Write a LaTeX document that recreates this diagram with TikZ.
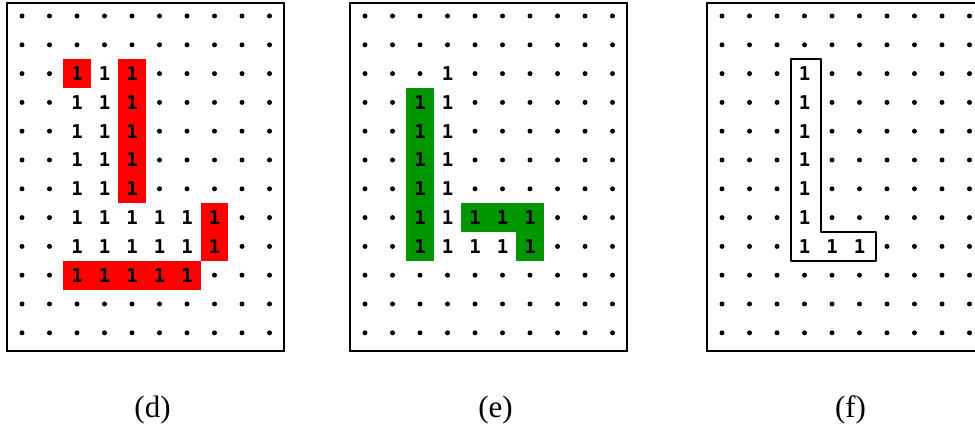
\documentclass[tikz,border=0pt]{standalone}
\usepackage{fontspec}
\newfontfamily\cellfont{DejaVu Sans Mono}
\newfontfamily\capfont{Liberation Serif}
\usetikzlibrary{positioning}
\definecolor{cellred}{RGB}{255,0,0}
\definecolor{cellgreen}{RGB}{0,150,0}

\begin{document}
\begin{tikzpicture}[
  frame/.style={draw, line width=1.8pt, minimum width=277pt, minimum height=348pt,
                inner sep=0pt},
  dot/.style={circle, fill=black, inner sep=0pt, minimum size=5pt},
  one/.style={fill=white, inner sep=0pt, minimum width=27.5pt, minimum height=28.8pt,
              font=\fontsize{19}{19}\cellfont\bfseries},
  redone/.style={one, fill=cellred},
  greenone/.style={one, fill=cellgreen},
  outline/.style={draw, line width=2.5pt, line join=round},
  caption/.style={font=\fontsize{31}{31}\capfont, inner sep=0pt},
]
\useasboundingbox (0,0) rectangle (975pt,-427pt);

% (d)
\begin{scope}[xshift=22pt, yshift=-16pt, x=27.5pt, y=-28.8pt]
  \node[frame] (dbox) at (123.5pt,-161pt) {};
  \foreach \r in {0,...,11}
    \foreach \c in {0,...,9}
      \node[dot] (d-\r-\c) at (\c,\r) {};
  \foreach \r/\c in {2/3,3/2,3/3,4/2,4/3,5/2,5/3,6/2,6/3,
                     7/2,7/3,7/4,7/5,7/6,8/2,8/3,8/4,8/5,8/6}
    \node[one] (d1-\r-\c) at (\c,\r) {1};
  \foreach \r/\c in {2/2,2/4,3/4,4/4,5/4,6/4,7/7,8/7,9/2,9/3,9/4,9/5,9/6}
    \node[redone] (d1-\r-\c) at (\c,\r) {1};
  \node[caption] (dcap) at ([xshift=7pt,yshift=-58pt]dbox.south) {(d)};
\end{scope}

% (e)
\begin{scope}[xshift=365pt, yshift=-16pt, x=27.5pt, y=-28.8pt]
  \node[frame] (ebox) at (123.5pt,-161pt) {};
  \foreach \r in {0,...,11}
    \foreach \c in {0,...,9}
      \node[dot] (e-\r-\c) at (\c,\r) {};
  \foreach \r/\c in {2/3,3/3,4/3,5/3,6/3,7/3,8/3,8/4,8/5}
    \node[one] (e1-\r-\c) at (\c,\r) {1};
  \foreach \r/\c in {3/2,4/2,5/2,6/2,7/2,8/2,7/4,7/5,7/6,8/6}
    \node[greenone] (e1-\r-\c) at (\c,\r) {1};
  \node[caption] (ecap) at ([xshift=7pt,yshift=-58pt]ebox.south) {(e)};
\end{scope}

% (f)
\begin{scope}[xshift=722pt, yshift=-16pt, x=27.5pt, y=-28.8pt]
  \node[frame] (fbox) at (123.5pt,-161pt) {};
  \foreach \r in {0,...,11}
    \foreach \c in {0,...,9}
      \node[dot] (f-\r-\c) at (\c,\r) {};
  \foreach \r/\c in {2/3,3/3,4/3,5/3,6/3,7/3,8/3,8/4,8/5}
    \node[one] (f1-\r-\c) at (\c,\r) {1};
  \draw[outline] (2.5,1.5) -- (3.6,1.5) -- (3.6,7.5) -- (5.6,7.5)
    -- (5.6,8.5) -- (2.5,8.5) -- cycle;
  \node[caption] (fcap) at ([xshift=5pt,yshift=-58pt]fbox.south) {(f)};
\end{scope}
\end{tikzpicture}
\end{document}
